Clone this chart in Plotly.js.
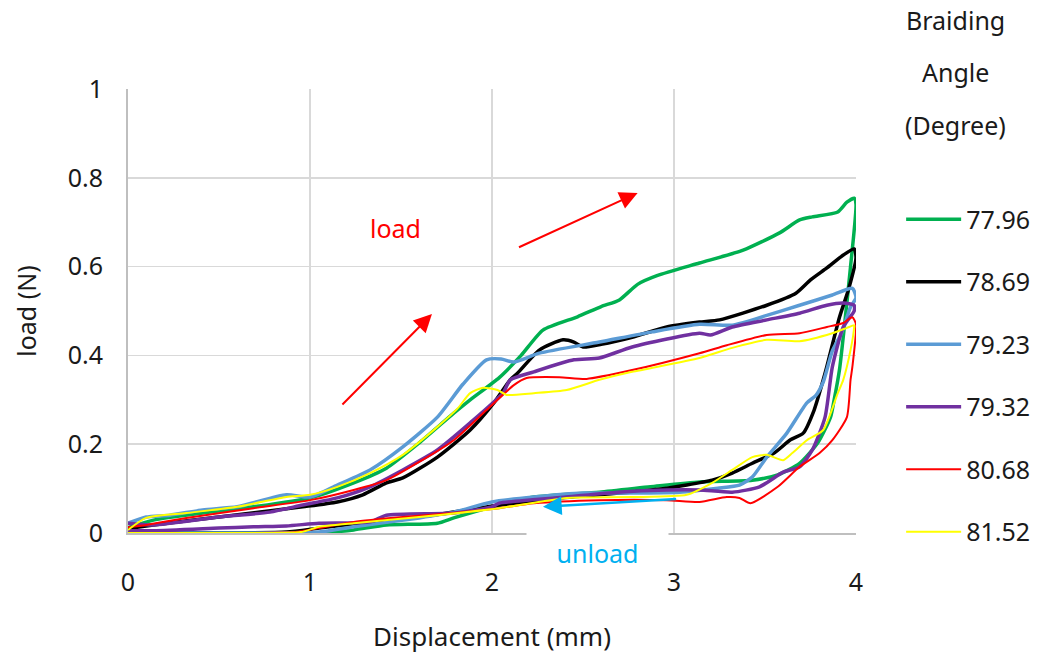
<!DOCTYPE html>
<html>
<head>
<meta charset="utf-8">
<script src="https://cdn.plot.ly/plotly-3.0.1.min.js"></script>
<style>html,body{margin:0;padding:0;background:#fff;}#chart{width:1037px;height:659px;}</style>
</head>
<body>
<div id="chart"></div>
<script>
// Series names (braiding angle, degree)
const names = ["77.96", "78.69", "79.23", "79.32", "80.68", "81.52"];
const colors = ["#00B050", "#000000", "#5B9BD5", "#7030A0", "#FF0000", "#FFFF00"];

// 77.96 (load then unload)
const x_7796 = [0,0.14,0.41,0.69,1.0,1.24,1.42,1.6,1.79,1.88,2.04,2.16,2.28,2.47,2.6,2.7,2.8,2.91,3.14,3.38,3.58,3.69,3.76,3.9,3.95,3.99,
  4.0,3.97,3.94,3.91,3.88,3.86,3.79,3.69,3.57,3.43,3.14,2.87,2.59,2.23,2.04,1.79,1.7,1.42,1.24,1.05,0.5,0];
const y_7796 = [0.012,0.029,0.045,0.059,0.079,0.113,0.146,0.203,0.27,0.3,0.35,0.4,0.457,0.487,0.51,0.525,0.56,0.58,0.608,0.637,0.676,0.705,0.712,0.723,0.745,0.754,
  0.74,0.6,0.48,0.37,0.3,0.261,0.203,0.157,0.131,0.119,0.115,0.104,0.092,0.081,0.063,0.034,0.022,0.018,0.007,0.0,0,0];

// 78.69
const x_7869 = [0,0.14,0.5,0.96,1.15,1.29,1.42,1.51,1.7,1.88,2.01,2.1,2.14,2.26,2.39,2.45,2.5,2.6,2.77,2.96,3.14,3.25,3.51,3.67,3.75,3.84,3.93,3.99,
  4.0,3.96,3.91,3.84,3.82,3.77,3.71,3.64,3.55,3.43,3.32,3.21,3.07,2.96,2.7,2.4,2.04,1.6,1.33,1.05,0.87,0.5,0];
const y_7869 = [0.01,0.018,0.036,0.059,0.07,0.086,0.113,0.124,0.171,0.232,0.293,0.345,0.36,0.412,0.435,0.43,0.419,0.425,0.441,0.464,0.475,0.48,0.513,0.54,0.57,0.597,0.626,0.64,
  0.62,0.55,0.487,0.375,0.345,0.277,0.225,0.21,0.18,0.157,0.135,0.119,0.108,0.101,0.09,0.08,0.063,0.036,0.025,0.011,0.002,0,0];

// 79.23
const x_7923 = [0,0.1,0.23,0.41,0.6,0.87,1.0,1.15,1.33,1.51,1.7,1.84,1.97,2.05,2.12,2.26,2.59,2.88,3.14,3.32,3.51,3.69,3.87,3.98,
  4.0,3.97,3.92,3.87,3.82,3.78,3.73,3.62,3.51,3.43,3.36,3.24,3.03,2.77,2.5,2.23,2.0,1.79,1.6,1.24,1.05,0.5,0];
const y_7923 = [0.022,0.036,0.04,0.052,0.059,0.086,0.081,0.108,0.142,0.194,0.261,0.335,0.39,0.392,0.385,0.405,0.43,0.453,0.47,0.468,0.49,0.513,0.536,0.551,
  0.53,0.509,0.45,0.41,0.34,0.31,0.293,0.225,0.171,0.126,0.108,0.101,0.092,0.09,0.09,0.081,0.07,0.047,0.034,0.014,0.002,0,0];

// 79.32
const x_7932 = [0,0.14,0.5,0.78,0.96,1.15,1.33,1.51,1.7,1.88,2.06,2.1,2.23,2.45,2.59,2.77,3.14,3.2,3.32,3.51,3.69,3.84,3.93,3.99,
  3.99,3.93,3.87,3.83,3.76,3.69,3.6,3.47,3.32,3.14,2.96,2.69,2.41,2.04,2.0,1.79,1.42,1.33,1.05,0.87,0.69,0.5,0.14,0];
const y_7932 = [0.022,0.018,0.036,0.047,0.063,0.079,0.104,0.142,0.187,0.248,0.315,0.345,0.363,0.39,0.394,0.419,0.45,0.446,0.464,0.48,0.495,0.513,0.518,0.513,
  0.5,0.464,0.374,0.261,0.187,0.149,0.137,0.104,0.092,0.097,0.097,0.092,0.081,0.067,0.059,0.045,0.04,0.025,0.022,0.016,0.014,0.011,0.005,0.005];

// 80.68
const x_8068 = [0,0.1,0.32,0.69,1.0,1.24,1.42,1.6,1.79,1.97,2.12,2.19,2.37,2.52,2.77,3.14,3.29,3.51,3.69,3.84,3.93,3.98,
  4.0,3.98,3.97,3.95,3.87,3.8,3.69,3.57,3.42,3.36,3.29,3.14,2.96,2.59,2.23,2.04,1.79,1.51,1.24,1.05,0.92,0.5,0];
const y_8068 = [0.013,0.018,0.034,0.056,0.074,0.097,0.119,0.16,0.209,0.277,0.333,0.349,0.351,0.347,0.367,0.405,0.423,0.446,0.45,0.464,0.473,0.486,
  0.47,0.374,0.345,0.261,0.209,0.18,0.149,0.104,0.067,0.079,0.081,0.07,0.074,0.074,0.067,0.056,0.045,0.036,0.025,0.011,0.002,0,0];

// 81.52
const x_8152 = [0,0.1,0.32,0.6,0.87,1.0,1.15,1.33,1.51,1.7,1.81,1.88,1.95,2.03,2.08,2.23,2.41,2.59,2.77,3.14,3.32,3.51,3.69,3.87,3.95,3.99,
  3.99,3.97,3.93,3.9,3.82,3.73,3.65,3.6,3.51,3.43,3.32,3.21,3.07,2.77,2.41,2.04,1.6,1.24,1.05,0.95,0.5,0];
const y_8152 = [0.007,0.034,0.045,0.059,0.081,0.086,0.104,0.135,0.176,0.239,0.28,0.315,0.327,0.322,0.311,0.315,0.322,0.345,0.363,0.394,0.417,0.435,0.432,0.45,0.462,0.468,
  0.464,0.412,0.345,0.315,0.232,0.209,0.18,0.164,0.176,0.171,0.142,0.113,0.086,0.081,0.079,0.056,0.036,0.022,0.014,0.002,0,0];

const xs = [x_7796, x_7869, x_7923, x_7932, x_8068, x_8152];
const ys = [y_7796, y_7869, y_7923, y_7932, y_8068, y_8152];
const widths = [3.5, 3.5, 3.5, 3.5, 2, 2];

const xTicks = [0, 1, 2, 3, 4];
const yTicks = [0, 0.2, 0.4, 0.6, 0.8, 1];
const yTickText = ["0", "0.2", "0.4", "0.6", "0.8", "1"];

const FONT = '"Noto Sans", "Open Sans", sans-serif';
const FS = 25;
const TXT = '#1a1a1a';

const traces = names.map((n, i) => ({
  type: 'scatter', mode: 'lines', name: n, x: xs[i], y: ys[i],
  legendgroup: 'g' + i,
  line: {color: colors[i], width: widths[i], shape: 'spline', smoothing: 0.6},
  hoverinfo: 'skip'
}));

const layout = {
  width: 1037, height: 659,
  margin: {l: 128, r: 181, t: 89, b: 126, autoexpand: false},
  paper_bgcolor: '#fff', plot_bgcolor: '#fff',
  font: {family: FONT, size: FS, color: TXT},
  showlegend: true,
  legend: {
    x: 1.062, xanchor: 'left', y: 0.758, yanchor: 'top',
    traceorder: 'grouped', tracegroupgap: 27, itemwidth: 55,
    font: {family: FONT, size: FS, color: TXT},
    bgcolor: 'rgba(0,0,0,0)'
  },
  xaxis: {
    range: [0, 4], tickvals: xTicks, ticktext: xTicks.map(String),
    showgrid: true, gridcolor: '#D9D9D9', gridwidth: 1.5,
    showline: true, linecolor: '#BFBFBF', linewidth: 2,
    zeroline: false, ticks: '', ticklabelstandoff: 26,
    title: {text: 'Displacement (mm)', font: {family: FONT, size: 26, color: TXT}, standoff: 31}
  },
  yaxis: {
    range: [0, 1], tickvals: yTicks, ticktext: yTickText,
    showgrid: true, gridcolor: '#D9D9D9', gridwidth: 1.5,
    showline: true, linecolor: '#BFBFBF', linewidth: 2,
    zeroline: false, ticks: '', ticklabelstandoff: 18,
    title: {text: 'load (N)', font: {family: FONT, size: FS, color: TXT}, standoff: 24}
  },
  annotations: [
    {xref: 'paper', yref: 'paper', x: 1.137, y: 1.155, xanchor: 'center', yanchor: 'middle', text: 'Braiding', showarrow: false, font: {size: FS}},
    {xref: 'paper', yref: 'paper', x: 1.137, y: 1.038, xanchor: 'center', yanchor: 'middle', text: 'Angle', showarrow: false, font: {size: FS}},
    {xref: 'paper', yref: 'paper', x: 1.137, y: 0.919, xanchor: 'center', yanchor: 'middle', text: '(Degree)', showarrow: false, font: {size: FS}},
    {xref: 'x', yref: 'y', x: 1.47, y: 0.687, xanchor: 'center', yanchor: 'middle', text: 'load', showarrow: false, font: {size: FS, color: '#FF0000'}},
    {xref: 'x', yref: 'paper', x: 2.58, y: -0.045, xanchor: 'center', yanchor: 'middle', text: 'unload', showarrow: false, font: {size: FS, color: '#00B0F0'},
      bgcolor: '#ffffff', width: 139, height: 44},
    {xref: 'x', yref: 'y', axref: 'x', ayref: 'y', x: 1.67, y: 0.493, ax: 1.17, ay: 0.286, text: '',
      showarrow: true, arrowhead: 2, arrowsize: 1.8, arrowwidth: 2, arrowcolor: '#FF0000'},
    {xref: 'x', yref: 'y', axref: 'x', ayref: 'y', x: 2.80, y: 0.766, ax: 2.14, ay: 0.642, text: '',
      showarrow: true, arrowhead: 2, arrowsize: 1.8, arrowwidth: 2, arrowcolor: '#FF0000'},
    {xref: 'x', yref: 'y', axref: 'x', ayref: 'y', x: 2.28, y: 0.059, ax: 3.02, ay: 0.077, text: '',
      showarrow: true, arrowhead: 2, arrowsize: 1.5, arrowwidth: 2.5, arrowcolor: '#00B0F0'}
  ]
};

Plotly.newPlot('chart', traces, layout, {staticPlot: true, displayModeBar: false});
</script>
</body>
</html>
